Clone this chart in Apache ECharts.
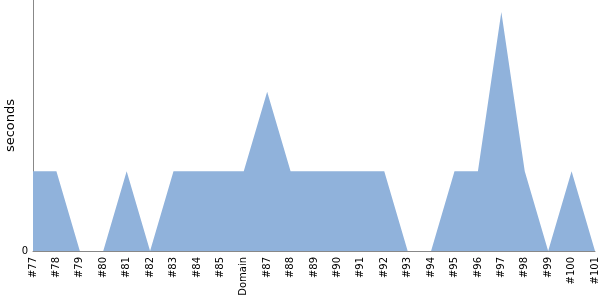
<!DOCTYPE html>
<html><head><meta charset="utf-8">
<script src="https://cdn.jsdelivr.net/npm/echarts@6/dist/echarts.min.js"></script>
<style>html,body{margin:0;padding:0;background:#fff}#c{width:600px;height:300px}</style>
</head><body><div id="c"></div>
<script>
const categories = ['#77','#78','#79','#80','#81','#82','#83','#84','#85','Domain','#87','#88','#89','#90','#91','#92','#93','#94','#95','#96','#97','#98','#99','#100','#101'];
const seconds = [1,1,0,0,1,0,1,1,1,1,2,1,1,1,1,1,0,0,1,1,3,1,0,1,0];
const yTickLabels = ['0'];
const chart = echarts.init(document.getElementById('c'));
chart.setOption({
  animation: false,
  grid: {left: 33, right: 5, top: 0, bottom: 49, containLabel: false, outerBoundsMode: 'none'},
  xAxis: {
    type: 'category', data: categories, boundaryGap: false,
    axisLine: {lineStyle: {color: '#888', width: 1}},
    axisTick: {show: false},
    axisLabel: {rotate: 90, interval: 0, color: '#000', fontFamily: 'DejaVu Sans', fontSize: 10, margin: 6}
  },
  yAxis: {
    type: 'value', min: 0, max: 3.15, interval: 3.15,
    name: 'seconds', nameLocation: 'middle', nameGap: 16, nameRotate: 90, nameMoveOverlap: false,
    nameTextStyle: {color: '#000', fontFamily: 'DejaVu Sans', fontSize: 13},
    axisLine: {show: true, lineStyle: {color: '#888', width: 1}},
    axisTick: {show: false},
    splitLine: {show: false},
    axisLabel: {color: '#000', fontFamily: 'DejaVu Sans', fontSize: 10, margin: 5,
      formatter: v => v === 0 ? yTickLabels[0] : ''}
  },
  series: [{
    type: 'line', data: seconds, symbol: 'none',
    lineStyle: {width: 0}, areaStyle: {color: '#90b2db', opacity: 1}
  }]
});
</script></body></html>
